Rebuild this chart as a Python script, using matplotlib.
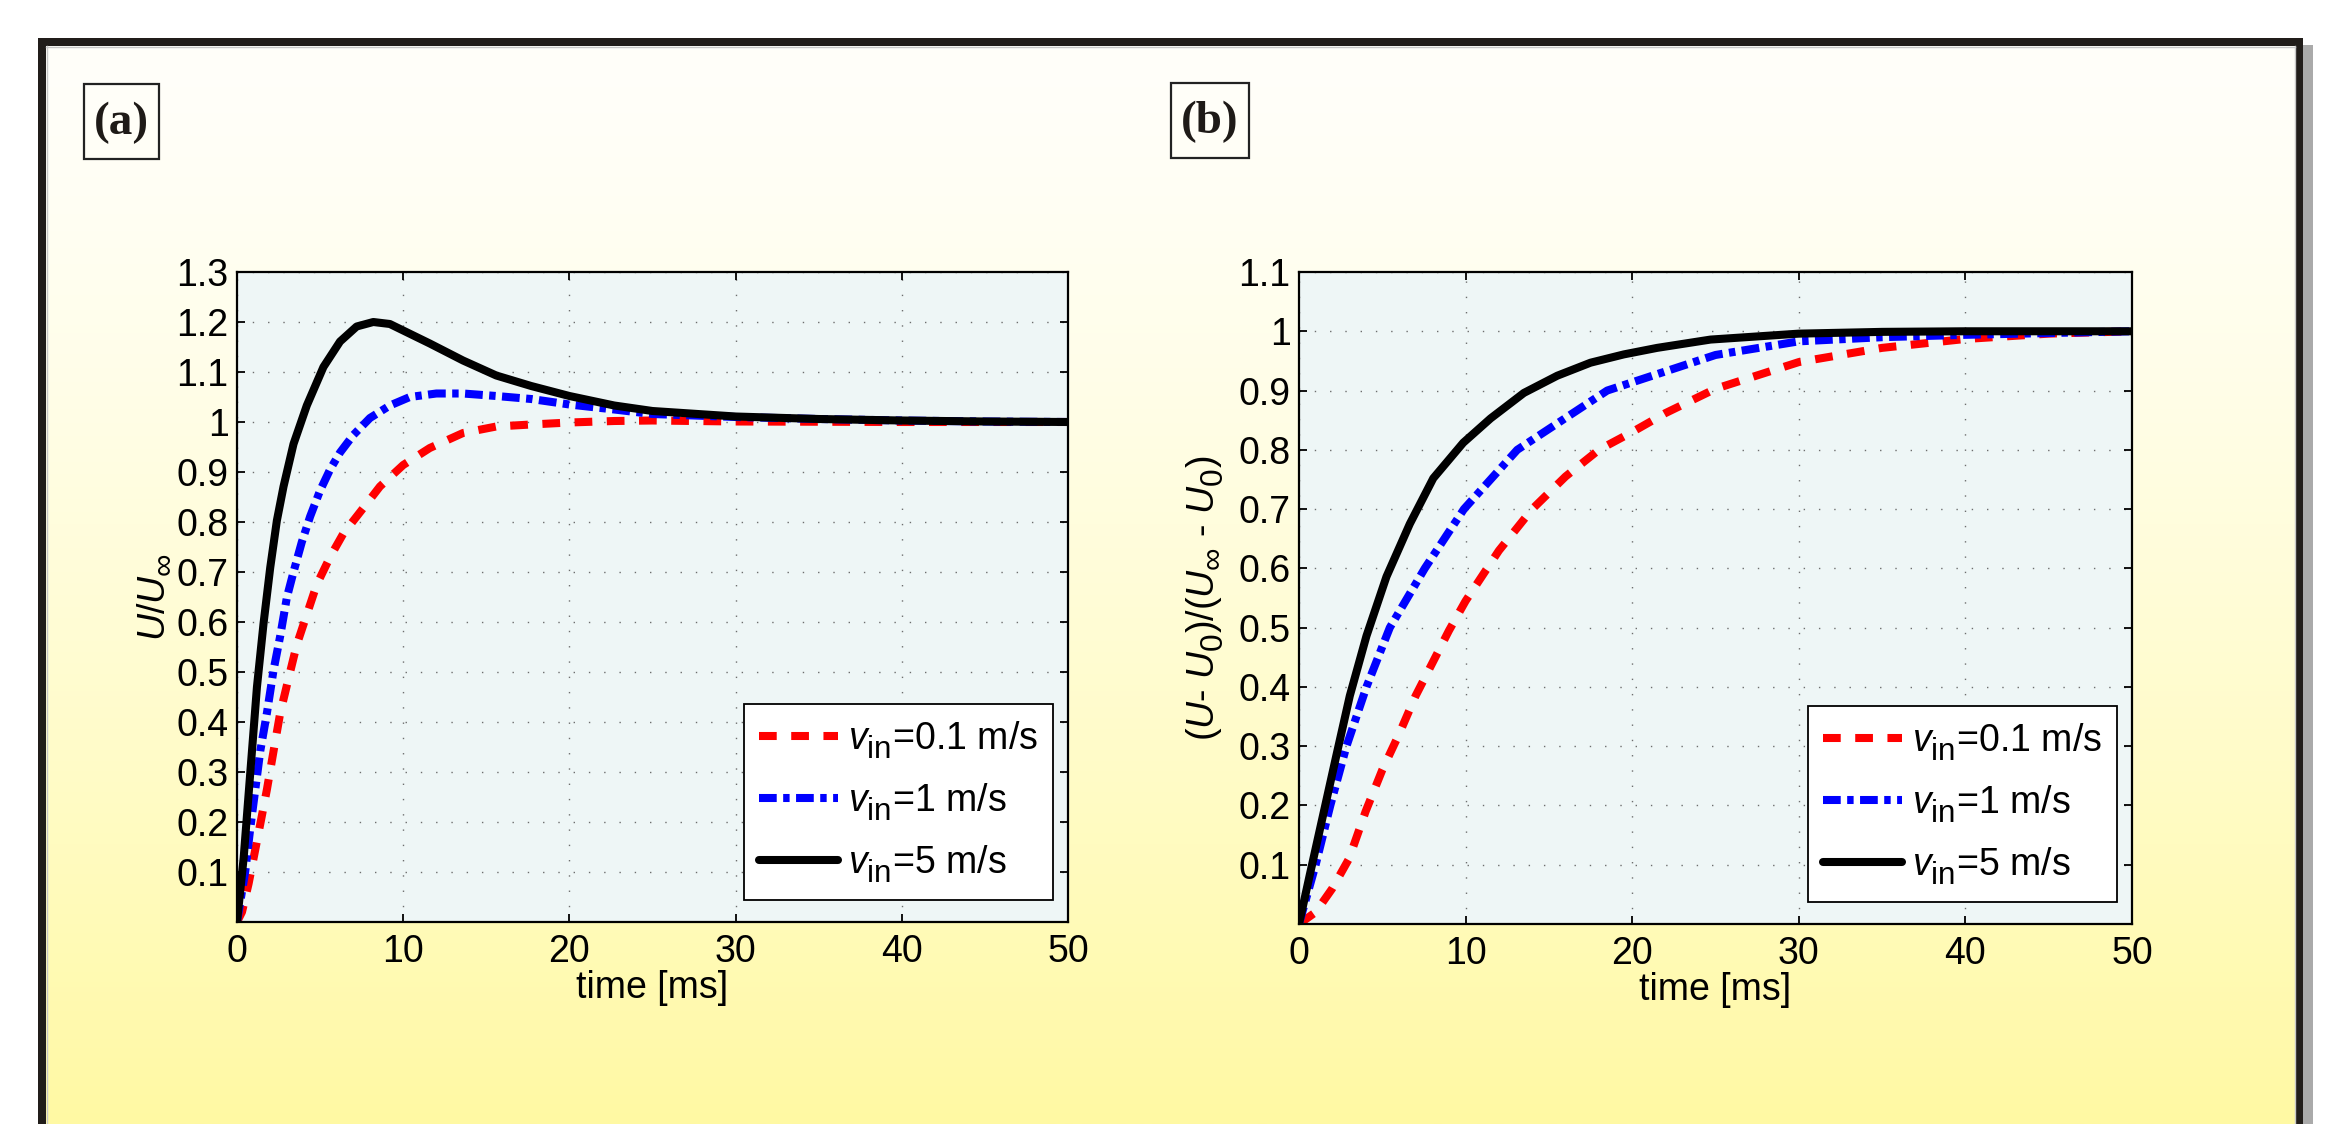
import numpy as np
import matplotlib
matplotlib.use("Agg")
import matplotlib.pyplot as plt
from matplotlib.patches import Rectangle
import matplotlib._mathtext as _mt

# larger, lower sub-scripts, as in the reference rendering
if hasattr(_mt, 'SHRINK_FACTOR'):
    _mt.SHRINK_FACTOR = 0.84
if hasattr(_mt, 'FontConstantsBase'):
    _mt.FontConstantsBase.sub1 = 0.45
    _mt.FontConstantsBase.sub2 = 0.6

# ---------------- data ----------------
# panel (a): U/U_inf
a_t_red = [0, 0.3, 0.7, 1.4, 1.8, 2.2, 2.6, 3.1, 3.6, 4.2, 4.8, 5.6, 6.4, 7.6, 8.6, 10.0, 11.6,
           13.6, 15.6, 17.7, 20, 22.7, 25, 30, 40, 50]
a_v_red = [0, 0.02, 0.077, 0.196, 0.265, 0.342, 0.418, 0.487, 0.555, 0.615, 0.675, 0.730, 0.777,
           0.828, 0.871, 0.914, 0.948, 0.978, 0.991, 0.995, 0.999, 1.002, 1.003, 1.001, 1.0, 1.0]

a_t_blue = [0, 0.5, 0.8, 1.4, 1.8, 2.2, 2.6, 3.0, 3.4, 3.9, 4.4, 5.0, 5.6, 6.2, 7.0, 8.0, 9.2,
            10.4, 12.0, 13.6, 15.6, 17.7, 20, 22.7, 25, 30, 35, 40, 45, 50]
a_v_blue = [0, 0.102, 0.188, 0.342, 0.418, 0.504, 0.572, 0.649, 0.700, 0.760, 0.811, 0.863, 0.905,
            0.939, 0.974, 1.008, 1.033, 1.050, 1.057, 1.057, 1.052, 1.046, 1.035, 1.025, 1.016,
            1.010, 1.006, 1.003, 1.001, 1.0]

a_t_black = [0, 0.4, 0.8, 1.2, 1.6, 2.0, 2.4, 2.8, 3.4, 4.2, 5.2, 6.2, 7.2, 8.2, 9.2, 10, 11.6,
             13.6, 15.6, 17.7, 20, 22.7, 25, 30, 35, 40, 45, 50]
a_v_black = [0, 0.128, 0.299, 0.470, 0.598, 0.709, 0.803, 0.871, 0.956, 1.033, 1.110, 1.161, 1.191,
             1.200, 1.196, 1.183, 1.157, 1.123, 1.093, 1.072, 1.052, 1.033, 1.022, 1.011, 1.006,
             1.003, 1.001, 1.0]

# panel (b): (U-U0)/(U_inf-U0)
b_t_red = [0, 1, 2, 3, 4, 5, 6, 7, 8, 9, 10, 12, 14, 16, 18, 20, 22, 25, 30, 35, 40, 45, 50]
b_v_red = [0, 0.02, 0.06, 0.11, 0.19, 0.26, 0.32, 0.385, 0.44, 0.495, 0.545, 0.63, 0.70, 0.755,
           0.80, 0.83, 0.862, 0.903, 0.948, 0.972, 0.987, 0.996, 1.0]

b_t_blue = [0, 1.0, 1.88, 2.85, 4.05, 5.45, 7.55, 9.9, 13.1, 18.5, 25, 30, 35, 40, 45, 50]
b_v_blue = [0, 0.1, 0.2, 0.3, 0.4, 0.5, 0.6, 0.7, 0.8, 0.9, 0.96, 0.983, 0.99, 0.994, 0.997, 1.0]

b_t_black = [0, 0.64, 1.44, 2.24, 3.05, 4.05, 5.25, 6.65, 8.06, 9.86, 11.5, 13.5, 15.5, 17.5,
             19.5, 21.5, 24.7, 30, 35, 40, 45, 50]
b_v_black = [0, 0.082, 0.183, 0.284, 0.385, 0.486, 0.586, 0.675, 0.752, 0.812, 0.853, 0.896, 0.925,
             0.947, 0.961, 0.972, 0.986, 0.996, 0.999, 1.0, 1.0, 1.0]

labels = [r'$v_{\mathrm{in}}$=0.1 m/s', r'$v_{\mathrm{in}}$=1 m/s', r'$v_{\mathrm{in}}$=5 m/s']
xticks = [0, 10, 20, 30, 40, 50]
a_yticks = [0.1, 0.2, 0.3, 0.4, 0.5, 0.6, 0.7, 0.8, 0.9, 1.0, 1.1, 1.2, 1.3]
b_yticks = [0.1, 0.2, 0.3, 0.4, 0.5, 0.6, 0.7, 0.8, 0.9, 1.0, 1.1]
panel_tags = ['(a)', '(b)']

# ---------------- style ----------------
plt.rcParams['font.family'] = ['Liberation Sans', 'DejaVu Sans']
plt.rcParams['mathtext.fontset'] = 'custom'
plt.rcParams['mathtext.rm'] = 'Liberation Sans'
plt.rcParams['mathtext.it'] = 'Liberation Sans:italic'
plt.rcParams['mathtext.bf'] = 'Liberation Sans:bold'

FS = 27
W, H = 2338, 1124
DPI = 100
fig = plt.figure(figsize=(W / DPI, H / DPI), dpi=DPI)
fig.patch.set_facecolor('white')

# background frame
bg = fig.add_axes([0, 0, 1, 1], zorder=-10)
bg.set_xlim(0, W)
bg.set_ylim(H, 0)
bg.axis('off')
bg.add_patch(Rectangle((2303, 45), 10, H, color='#AAAAAA', lw=0))
bg.add_patch(Rectangle((38, 38), 2265, H + 50, color='#211D1A', lw=0))
n = 400
f = np.linspace(0, 1, n) ** 1.35
top = np.array([255, 255, 250]) / 255
bot = np.array([255, 249, 163]) / 255
grad = (top[None, :] + (bot - top)[None, :] * f[:, None])[:, None, :]
bg.imshow(grad, extent=(46, 2295, H, 46), aspect='auto', interpolation='bilinear', zorder=1)
bg.plot([46, 2295], [46.5, 46.5], color='#C8C8C8', lw=1, zorder=2)
bg.plot([46.5, 46.5], [46, H], color='#C8C8C8', lw=1, zorder=2)
bg.plot([2294.5, 2294.5], [46, H], color='#C8C8C8', lw=1, zorder=2)

# panel tag boxes
for (x0, y0, w, h), tag in zip([(84, 84, 75, 75), (1171, 83, 78, 75)], panel_tags):
    bg.add_patch(Rectangle((x0, y0), w, h, fill=False, ec='#222222', lw=1.6, zorder=3))
    bg.text(x0 + w / 2, y0 + h / 2 + 1, tag, ha='center', va='center', fontsize=34,
            fontweight='bold', family='Liberation Serif', color='#1E1A17', zorder=4)

styles = [dict(color='#FF0000', dashes=(2.2, 1.8), dash_capstyle='butt'),
          dict(color='#0000FF', dashes=(2.2, 0.8, 0.8, 0.8), dash_capstyle='butt'),
          dict(color='black', linestyle='-')]
LW = 5.8


def setup(ax, ymax, yticks):
    ax.set_facecolor('#EEF6F6')
    ax.set_xlim(0, 50)
    ax.set_ylim(0, ymax)
    ax.set_xticks(xticks)
    ax.set_xticklabels([str(v) for v in xticks])
    ax.set_yticks(yticks)
    ax.set_yticklabels(['%g' % v for v in yticks])
    ax.tick_params(direction='in', length=6, width=1.3, labelsize=FS, top=True, right=True,
                   colors='black')
    ax.tick_params(axis='x', pad=9)
    ax.tick_params(axis='y', pad=6)
    for s in ax.spines.values():
        s.set_linewidth(1.6)
        s.set_color('black')
    ax.grid(True, color='#6E6E6E', linewidth=1.0, linestyle=(0, (1, 10)))
    ax.set_axisbelow(True)
    ax.set_xlabel('time [ms]', fontsize=FS, labelpad=0)


ax1 = fig.add_axes([237 / W, 1 - 922 / H, (1068 - 237) / W, (922 - 272) / H])
ax2 = fig.add_axes([1299 / W, 1 - 924 / H, (2132 - 1299) / W, (924 - 272) / H])
setup(ax1, 1.3, a_yticks)
setup(ax2, 1.1, b_yticks)

a_series = [(a_t_red, a_v_red), (a_t_blue, a_v_blue), (a_t_black, a_v_black)]
b_series = [(b_t_red, b_v_red), (b_t_blue, b_v_blue), (b_t_black, b_v_black)]
for ax, series in [(ax1, a_series), (ax2, b_series)]:
    for (t, v), st, lab in zip(series, styles, labels):
        ax.plot(t, v, lw=LW, label=lab, solid_capstyle='round', solid_joinstyle='round',
                clip_on=True, **st)
    leg = ax.legend(loc='lower right', bbox_to_anchor=(0.982, 0.034), borderaxespad=0,
                    fontsize=FS, handlelength=2.1, handletextpad=0.28, labelspacing=0.55,
                    borderpad=0.4, fancybox=False, framealpha=1, edgecolor='black')
    leg.get_frame().set_linewidth(1.3)

ax1.set_ylabel(r'$U/U_\infty$', fontsize=FS, labelpad=4)
ax2.set_ylabel(r'($U$- $U_0$)/($U_\infty$ - $U_0$)', fontsize=FS, labelpad=9)

fig.savefig('out.png', dpi=DPI, facecolor='white')
